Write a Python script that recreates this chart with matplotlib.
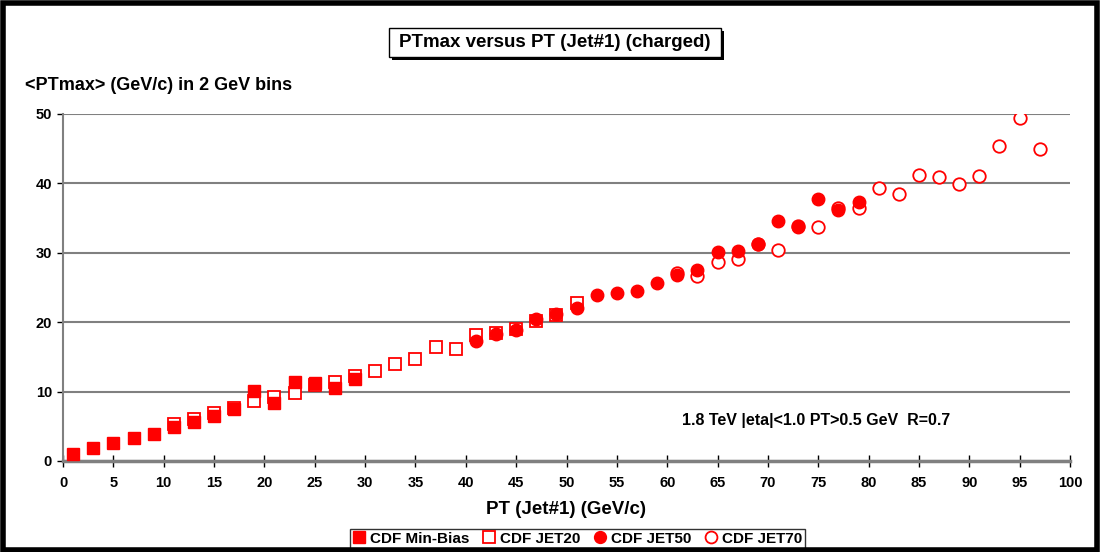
import matplotlib
matplotlib.use("Agg")
import matplotlib.pyplot as plt
from matplotlib.patches import Rectangle

plt.rcParams['font.family'] = ['Liberation Sans', 'DejaVu Sans']
plt.rcParams['font.weight'] = 'bold'

# data
mb_x = [1, 3, 5, 7, 9, 11, 13, 15, 17, 19, 21, 23, 25, 27, 29]
mb_y = [1.0, 1.9, 2.6, 3.3, 3.9, 4.9, 5.6, 6.5, 7.5, 10.1, 8.3, 11.4, 11.3, 10.5, 11.8]

j20_x = [11, 13, 15, 17, 19, 21, 23, 25, 27, 29, 31, 33, 35, 37, 39, 41, 43, 45, 47, 49, 51]
j20_y = [5.3, 6.0, 6.9, 7.6, 8.6, 9.2, 9.8, 10.9, 11.4, 12.3, 13.0, 14.0, 14.7, 16.4, 16.2,
         18.2, 18.4, 19.0, 20.1, 21.1, 22.7]

j50_x = [41, 43, 45, 47, 49, 51, 53, 55, 57, 59, 61, 63, 65, 67, 69, 71, 73, 75, 77, 79]
j50_y = [17.3, 18.3, 18.9, 20.4, 21.2, 22.0, 23.9, 24.2, 24.5, 25.6, 26.8, 27.5, 30.1, 30.2,
         31.3, 34.6, 33.7, 37.7, 36.1, 37.3]

j70_x = [61, 63, 65, 67, 69, 71, 73, 75, 77, 79, 81, 83, 85, 87, 89, 91, 93, 95, 97]
j70_y = [27.1, 26.7, 28.7, 29.1, 31.2, 30.4, 33.9, 33.7, 36.4, 36.5, 39.3, 38.4, 41.2, 40.9,
         39.9, 41.0, 45.4, 49.4, 45.0]

red = '#ff0000'
W, H = 1100, 552

fig = plt.figure(figsize=(11, 5.52), dpi=100)
ax = fig.add_axes([0.0573, 0.1649, 0.9154, 0.6286])

ax.plot(j70_x, j70_y, 'o', ms=9, mfc='white', mec=red, mew=1.3, ls='none', label='CDF JET70', zorder=3)
ax.plot(j50_x, j50_y, 'o', ms=9, mfc=red, mec=red, ls='none', label='CDF JET50', zorder=4)
ax.plot(j20_x, j20_y, 's', ms=8.5, mfc='white', mec=red, mew=1.3, ls='none', label='CDF JET20', zorder=3)
ax.plot(mb_x, mb_y, 's', ms=8.5, mfc=red, mec=red, ls='none', label='CDF Min-Bias', zorder=4)

ax.set_xlim(0, 100)
ax.set_ylim(0, 50)
ax.set_xticks(range(0, 101, 5))
ax.set_yticks(range(0, 51, 10))
ax.yaxis.grid(True, color='#808080', lw=1.5)
ax.set_axisbelow(True)
for s in ['top', 'right']:
    ax.spines[s].set_visible(False)
ax.spines['left'].set_color('#808080')
ax.spines['bottom'].set_color('#808080')
ax.spines['bottom'].set_linewidth(2.5)
ax.spines['left'].set_linewidth(1.5)
ax.tick_params(axis='x', direction='inout', length=8, width=1, color='black',
               labelsize=10.5, pad=7)
ax.tick_params(axis='y', direction='out', length=4, width=1, color='black',
               labelsize=10.5, pad=4)
for lab in ax.get_xticklabels() + ax.get_yticklabels():
    lab.set_fontweight('bold')

ax.set_xlabel('PT (Jet#1) (GeV/c)', fontsize=13.5, fontweight='bold', labelpad=8)

ax.text(682 / W, 1 - 421 / H, '1.8 TeV |eta|<1.0 PT>0.5 GeV  R=0.7', transform=fig.transFigure,
        fontsize=11.5, fontweight='bold', ha='left', va='center')

fig.text(25 / W, 1 - 85 / H, '<PTmax> (GeV/c) in 2 GeV bins', fontsize=13, fontweight='bold',
         ha='left', va='center')

# title box with drop shadow
bx0, bx1, by0, by1 = 389, 721, 28, 57
fig.patches.append(Rectangle((bx0 / W + 3 / W, 1 - (by1 + 3) / H), (bx1 - bx0) / W, (by1 - by0) / H,
                             transform=fig.transFigure, fc='black', ec='none', zorder=1))
fig.patches.append(Rectangle((bx0 / W, 1 - by1 / H), (bx1 - bx0) / W, (by1 - by0) / H,
                             transform=fig.transFigure, fc='white', ec='black', lw=1, zorder=2))
fig.text((bx0 + bx1) / 2 / W, 1 - (by0 + by1) / 2 / H, 'PTmax versus PT (Jet#1) (charged)',
         fontsize=13.5, fontweight='bold', ha='center', va='center', zorder=3)

h, l = ax.get_legend_handles_labels()
order = [3, 2, 1, 0]
leg = fig.legend([h[i] for i in order], [l[i] for i in order], loc='lower center',
                 bbox_to_anchor=(577.5 / W, -0.008), ncol=4, frameon=True, fancybox=False,
                 edgecolor='black', handlelength=0.8, handletextpad=0.3,
                 columnspacing=0.9, borderpad=0.2, markerscale=0.95,
                 prop={'weight': 'bold', 'size': 11})
leg.get_frame().set_linewidth(1)

# outer frame
fig.patches.append(Rectangle((0.003, 0.004), 0.994, 0.991, transform=fig.transFigure,
                             fill=False, ec='black', lw=4, zorder=10))

fig.savefig('out.png', dpi=100)
